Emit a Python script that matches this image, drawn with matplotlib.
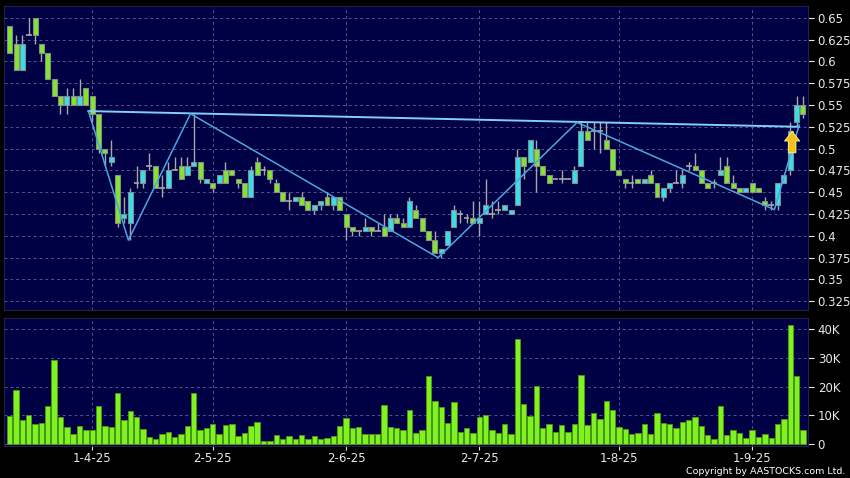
import matplotlib
matplotlib.use("Agg")
import matplotlib.pyplot as plt
import numpy as np

# daily OHLC, 13-Mar-25 .. 11-Sep-25
opens = [0.64, 0.62, 0.59, 0.63, 0.65, 0.62, 0.61, 0.58, 0.56, 0.55,
         0.56, 0.55, 0.57, 0.56, 0.54, 0.50, 0.485, 0.47, 0.42, 0.415,
         0.46, 0.46, 0.48, 0.48, 0.455, 0.455, 0.475, 0.48, 0.47, 0.48,
         0.485, 0.46, 0.46, 0.46, 0.475, 0.475, 0.465, 0.46, 0.445, 0.485,
         0.475, 0.475, 0.46, 0.45, 0.44, 0.44, 0.445, 0.44, 0.43, 0.435,
         0.445, 0.435, 0.445, 0.425, 0.41, 0.405, 0.405, 0.41, 0.405, 0.41,
         0.405, 0.42, 0.415, 0.41, 0.43, 0.42, 0.405, 0.395, 0.38, 0.39,
         0.41, 0.425, 0.42, 0.42, 0.415, 0.425, 0.425, 0.43, 0.43, 0.425,
         0.435, 0.49, 0.485, 0.50, 0.48, 0.47, 0.465, 0.465, 0.465, 0.46,
         0.48, 0.52, 0.52, 0.52, 0.51, 0.50, 0.475, 0.465, 0.46, 0.465,
         0.46, 0.47, 0.46, 0.445, 0.455, 0.46, 0.46, 0.48, 0.48, 0.475,
         0.46, 0.46, 0.47, 0.48, 0.46, 0.455, 0.45, 0.46, 0.455, 0.44,
         0.435, 0.435, 0.46, 0.475, 0.53, 0.55]
highs = [0.64, 0.63, 0.63, 0.65, 0.65, 0.62, 0.61, 0.58, 0.56, 0.57,
         0.57, 0.58, 0.57, 0.56, 0.54, 0.50, 0.51, 0.47, 0.445, 0.455,
         0.48, 0.475, 0.495, 0.48, 0.47, 0.485, 0.49, 0.49, 0.49, 0.54,
         0.485, 0.465, 0.46, 0.47, 0.485, 0.475, 0.465, 0.46, 0.48, 0.49,
         0.48, 0.475, 0.465, 0.45, 0.45, 0.445, 0.45, 0.44, 0.435, 0.44,
         0.45, 0.445, 0.445, 0.425, 0.41, 0.405, 0.42, 0.41, 0.415, 0.425,
         0.425, 0.425, 0.42, 0.445, 0.435, 0.42, 0.405, 0.405, 0.385, 0.405,
         0.435, 0.43, 0.425, 0.44, 0.44, 0.465, 0.44, 0.44, 0.435, 0.43,
         0.50, 0.49, 0.51, 0.51, 0.48, 0.47, 0.465, 0.475, 0.465, 0.48,
         0.53, 0.53, 0.53, 0.53, 0.53, 0.50, 0.475, 0.465, 0.47, 0.465,
         0.465, 0.475, 0.46, 0.455, 0.46, 0.475, 0.475, 0.485, 0.495, 0.475,
         0.46, 0.465, 0.49, 0.49, 0.47, 0.455, 0.455, 0.46, 0.455, 0.445,
         0.44, 0.46, 0.47, 0.53, 0.56, 0.56]
lows = [0.61, 0.59, 0.59, 0.63, 0.62, 0.60, 0.58, 0.56, 0.54, 0.54,
        0.55, 0.55, 0.55, 0.53, 0.495, 0.48, 0.48, 0.41, 0.415, 0.395,
        0.455, 0.455, 0.475, 0.455, 0.445, 0.455, 0.475, 0.465, 0.47, 0.48,
        0.46, 0.46, 0.45, 0.46, 0.46, 0.47, 0.455, 0.445, 0.445, 0.47,
        0.47, 0.46, 0.45, 0.44, 0.43, 0.44, 0.435, 0.43, 0.425, 0.43,
        0.435, 0.43, 0.43, 0.395, 0.40, 0.40, 0.405, 0.40, 0.405, 0.40,
        0.405, 0.415, 0.41, 0.41, 0.42, 0.405, 0.395, 0.38, 0.375, 0.39,
        0.41, 0.415, 0.415, 0.415, 0.40, 0.425, 0.42, 0.425, 0.43, 0.425,
        0.435, 0.465, 0.485, 0.45, 0.47, 0.46, 0.465, 0.46, 0.465, 0.46,
        0.48, 0.51, 0.50, 0.495, 0.50, 0.475, 0.47, 0.455, 0.455, 0.46,
        0.46, 0.46, 0.445, 0.44, 0.45, 0.46, 0.455, 0.475, 0.475, 0.46,
        0.455, 0.455, 0.47, 0.46, 0.455, 0.45, 0.45, 0.45, 0.45, 0.43,
        0.43, 0.43, 0.46, 0.47, 0.525, 0.535]
closes = [0.61, 0.59, 0.62, 0.63, 0.63, 0.61, 0.58, 0.56, 0.55, 0.56,
          0.55, 0.56, 0.55, 0.54, 0.50, 0.495, 0.49, 0.415, 0.425, 0.45,
          0.46, 0.475, 0.48, 0.455, 0.455, 0.475, 0.475, 0.465, 0.48, 0.485,
          0.465, 0.465, 0.455, 0.47, 0.46, 0.47, 0.46, 0.445, 0.475, 0.47,
          0.475, 0.465, 0.45, 0.44, 0.44, 0.445, 0.435, 0.43, 0.435, 0.44,
          0.435, 0.445, 0.43, 0.41, 0.405, 0.405, 0.41, 0.405, 0.405, 0.40,
          0.42, 0.415, 0.41, 0.44, 0.42, 0.405, 0.395, 0.38, 0.385, 0.405,
          0.43, 0.425, 0.42, 0.415, 0.42, 0.435, 0.425, 0.43, 0.435, 0.43,
          0.49, 0.48, 0.51, 0.48, 0.47, 0.46, 0.465, 0.465, 0.465, 0.475,
          0.52, 0.51, 0.52, 0.52, 0.50, 0.475, 0.47, 0.46, 0.46, 0.46,
          0.465, 0.46, 0.445, 0.455, 0.46, 0.46, 0.47, 0.48, 0.475, 0.46,
          0.455, 0.46, 0.475, 0.46, 0.455, 0.45, 0.455, 0.45, 0.45, 0.435,
          0.435, 0.46, 0.47, 0.52, 0.55, 0.54]

# volume in thousands
volumes = [9.8, 18.8, 8.4, 10.3, 7.2, 7.3, 13.3, 29.3, 9.5, 5.9,
           3.5, 6.2, 4.8, 4.9, 13.3, 6.4, 5.9, 17.7, 8.4, 11.5,
           9.3, 5.2, 2.6, 2.0, 3.6, 4.3, 2.7, 3.4, 6.4, 17.9,
           4.9, 5.6, 7.1, 3.4, 6.7, 7.1, 2.9, 4.0, 6.2, 7.7,
           1.3, 1.2, 3.1, 1.7, 2.9, 1.7, 3.1, 1.7, 2.9, 1.7,
           2.2, 2.9, 6.4, 9.1, 5.8, 6.0, 3.6, 3.5, 3.7, 13.6,
           6.0, 5.8, 5.0, 11.9, 4.0, 5.1, 23.8, 15.1, 13.0, 7.4,
           14.5, 4.2, 5.8, 3.8, 9.5, 10.2, 5.1, 3.8, 6.9, 3.6,
           36.4, 14.0, 9.9, 20.2, 5.5, 6.9, 4.3, 6.7, 4.4, 7.0,
           24.0, 6.7, 10.8, 8.7, 15.1, 12.0, 6.0, 5.3, 3.6, 4.0,
           7.1, 3.6, 10.9, 7.3, 6.9, 5.7, 7.8, 8.3, 9.5, 6.2,
           3.3, 2.0, 13.4, 3.3, 5.0, 3.8, 2.3, 5.0, 2.7, 3.5,
           2.3, 7.0, 8.6, 41.3, 23.7, 5.1]

tick_pos = [13, 32, 53, 74, 96, 117]
tick_labels = ["1-4-25", "2-5-25", "2-6-25", "2-7-25", "1-8-25", "1-9-25"]

price_ticks = [0.325, 0.35, 0.375, 0.4, 0.425, 0.45, 0.475, 0.5, 0.525,
               0.55, 0.575, 0.6, 0.625, 0.65]
price_labels = ["0.325", "0.35", "0.375", "0.4", "0.425", "0.45", "0.475",
                "0.5", "0.525", "0.55", "0.575", "0.6", "0.625", "0.65"]
vol_ticks = [0, 10, 20, 30, 40]
vol_labels = ["0", "10K", "20K", "30K", "40K"]

# drawn trend lines (candle index, price)
neck_x = [12.4, 124.4]
neck_y = [0.543, 0.525]
zig_x = [12.4, 18.7, 28.5, 67.5, 89.4, 120.5, 124.4]
zig_y = [0.543, 0.395, 0.54, 0.375, 0.53, 0.43, 0.527]

BG = "#000044"
UP = "#33e0f0"
DOWN = "#80e62e"
EDGE = "#8a8a8a"
GRID = "#55558a"
TXT = "#e8e8e8"

fig = plt.figure(figsize=(8.5, 4.78), dpi=100, facecolor="black")
ax = fig.add_axes([0.0047, 0.3515, 0.9459, 0.6360])
axv = fig.add_axes([0.0047, 0.0669, 0.9459, 0.2678])

x = np.arange(len(opens))
o = np.array(opens)
h = np.array(highs)
l = np.array(lows)
c = np.array(closes)

for a in (ax, axv):
    a.set_facecolor(BG)
    a.set_xlim(-0.9, len(opens) - 0.2)
    for s in a.spines.values():
        s.set_color("#222244")
    a.yaxis.tick_right()
    a.tick_params(axis="y", colors=TXT, labelsize=8.5, length=4, pad=3)
    a.grid(True, color=GRID, linestyle=(0, (3, 3)), linewidth=0.7)
    a.set_axisbelow(True)

# wicks
ax.vlines(x, l, h, color="#a8a8a8", linewidth=1.0, zorder=2)

up = c > o
dn = c < o
eq = c == o
ax.bar(x[up], (c - o)[up], bottom=o[up], width=0.78, color=UP,
       edgecolor=EDGE, linewidth=0.8, zorder=3)
ax.bar(x[dn], (o - c)[dn], bottom=c[dn], width=0.78, color=DOWN,
       edgecolor=EDGE, linewidth=0.8, zorder=3)
ax.hlines(c[eq], x[eq] - 0.45, x[eq] + 0.45, color="#a8a8a8",
          linewidth=1.2, zorder=3)

ax.plot(neck_x, neck_y, color="#7fd0f5", linewidth=1.4, zorder=4)
ax.plot(zig_x, zig_y, color="#4aa8e0", linewidth=1.1, zorder=4)

# breakout arrow
ax.annotate("", xy=(123.3, 0.523), xytext=(123.3, 0.492),
            arrowprops=dict(arrowstyle="simple,head_width=1.1,head_length=0.7,tail_width=0.55",
                            fc="#f5c21b", ec="#fff2a0", lw=0.6), zorder=5)

ax.set_ylim(0.315, 0.6635)
ax.set_yticks(price_ticks)
ax.set_yticklabels(price_labels)
ax.set_xticks(tick_pos)
ax.tick_params(axis="x", length=0, labelbottom=False)

axv.bar(x, volumes, width=0.85, color="#7ff21f", edgecolor="#4c9a12",
        linewidth=0.6, zorder=3)
axv.set_ylim(-0.6, 43.8)
axv.set_yticks(vol_ticks)
axv.set_yticklabels(vol_labels)
axv.set_xticks(tick_pos)
axv.set_xticklabels(tick_labels)
axv.tick_params(axis="x", colors=TXT, labelsize=8.5, length=3, pad=1.5,
                direction="out")

fig.text(0.994, 0.004, "Copyright by AASTOCKS.com Ltd.", color="white",
         fontsize=6.8, ha="right", va="bottom")

fig.savefig("out.png", dpi=100, facecolor="black")
